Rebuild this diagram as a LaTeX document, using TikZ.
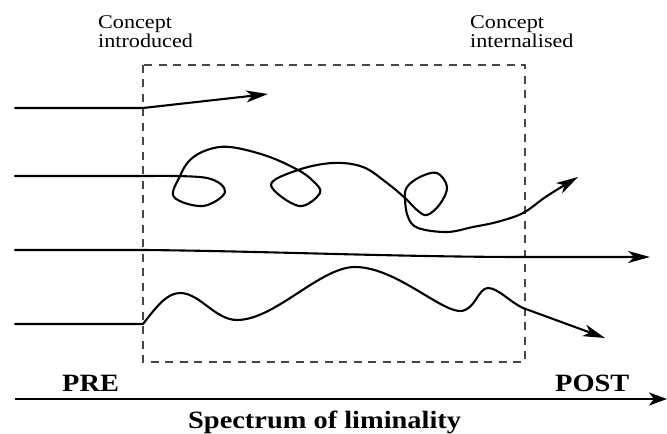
\documentclass[tikz,border=0pt]{standalone}
\usepackage{fontspec}
\setmainfont{Liberation Serif}
\newfontfamily\wideserif[FakeStretch=1.14]{Liberation Serif}
\usetikzlibrary{arrows.meta}
\tikzset{
  curve/.style={line width=2.1bp, line join=round, line cap=round, -{Stealth[length=22pt,width=12pt,inset=6pt]}},
  boxline/.style={line width=1.3bp, draw=black!72, dash pattern=on 8bp off 6.5bp},
  axisline/.style={line width=2.6bp, -{Stealth[length=18pt,width=13pt,inset=5pt]}},
  smalllabel/.style={inner sep=0pt, anchor=north west, align=left, font=\wideserif\fontsize{19.5}{19}\selectfont},
  biglabel/.style={inner sep=0pt, anchor=base west, font=\wideserif\bfseries\fontsize{25}{28}\selectfont}
}
\begin{document}
\begin{tikzpicture}[x=1bp,y=-1bp]
\useasboundingbox (0,0) rectangle (667,434);
% liminal box
\draw[boxline] (143,65) rectangle (525,362);
% labels
\node[smalllabel] (intro) at (98,15.5) {Concept\\introduced};
\node[smalllabel] (intern) at (470,15.5) {Concept\\internalised};
% path 1
\coordinate (a0) at (15,108);
\coordinate (a1) at (143,108);
\coordinate (a2) at (268,94);
\draw[curve] (a0) -- (a1) -- (a2);
% path 2 (loops)
\coordinate (b0) at (15,176);
\draw[curve] (b0) -- (150,176) -- plot[smooth, tension=0.6] coordinates {
 (150,176) (207,178) (225,192) (203,206) (174,197) (180,176) (190,160) (207,150) (230,147) (267,156)
 (298,170) (313,181) (320,193) (299,206) (271,185) (298,170) (333,163) (363,167)
 (387,183) (405,198) (417,210) (427,215) (440,204) (447,187) (437,173) (420,177)
 (407,187) (405,199) (408,217) (418,228) (447,232) (473,227) (497,222) (523,213)
 (547,196) (578,177)};
% path 3
\coordinate (c0) at (15,250);
\coordinate (c1) at (143,250);
\coordinate (c2) at (525,257);
\coordinate (c3) at (650,257);
\draw[curve] (c0) -- (c1) .. controls (260,251) and (400,257) .. (c2) -- (c3);
% path 4 (waves)
\coordinate (d0) at (15,324);
\coordinate (d1) at (143,324);
\coordinate (d2) at (605,338);
\draw[curve] (d0) -- (d1)
  .. controls (157,306) and (167,293) .. (180,293)
  .. controls (200,293) and (215,320) .. (237,320)
  .. controls (275,320) and (320,267) .. (355,267)
  .. controls (395,267) and (440,311) .. (460,311)
  .. controls (475,311) and (478,288) .. (488,288)
  .. controls (498,288) and (510,302) .. (523,308)
  -- (d2);
% axis
\coordinate (e0) at (15,399);
\coordinate (e1) at (667,399);
\draw[axisline] (e0) -- (e1);
\node[biglabel] (pre) at (62,391) {PRE};
\node[biglabel] (post) at (555,391) {POST};
\node[biglabel] (spec) at (188,428) {Spectrum of liminality};
\end{tikzpicture}
\end{document}
